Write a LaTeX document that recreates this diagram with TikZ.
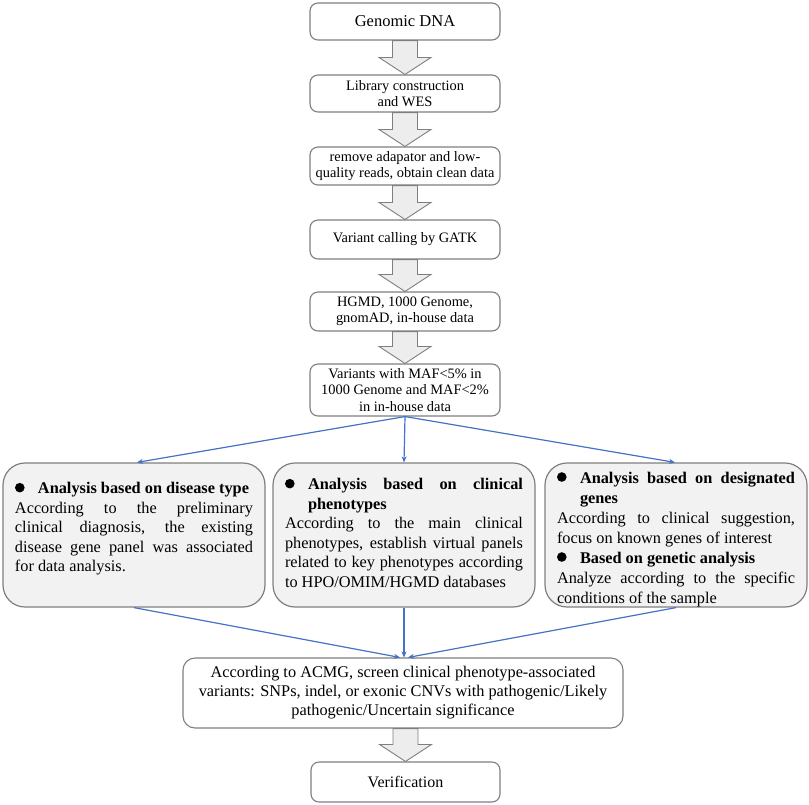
\documentclass[tikz,border=0pt]{standalone}
\usepackage{fontspec}
\setmainfont{Liberation Serif}
\usetikzlibrary{arrows.meta,calc}
\definecolor{boxline}{HTML}{7F7F7F}
\definecolor{arrowfill}{HTML}{EDEDED}
\definecolor{panelfill}{HTML}{F2F2F2}
\definecolor{flowblue}{HTML}{4472C4}
\newcommand{\blockarr}[2]{%
  \path[blockarrow] let \p1=(#1.south), \p2=(#2.north) in
    (\x2-12.5pt,\y1) -- (\x2-12.5pt,\y2+17pt) -- (\x2-26pt,\y2+17pt) -- (\x2,\y2)
    -- (\x2+26pt,\y2+17pt) -- (\x2+12.5pt,\y2+17pt) -- (\x2+12.5pt,\y1) -- cycle;}
\newcommand{\bigdot}{\tikz[baseline=0pt]\fill[black] (5pt,6pt) circle[radius=4.8pt];}
\newcommand{\bhead}[1]{\noindent\hangindent=23pt\hangafter=1\strut\makebox[23pt][l]{\bigdot}\textbf{#1}\par}
\tikzset{
  smallbox/.style={draw=boxline, line width=1.1pt, fill=white, rounded corners=8pt,
    minimum width=190pt, inner sep=0pt, align=center, font=\fontsize{14.4}{15.5}\selectfont},
  panel/.style={draw=boxline, line width=1.2pt, fill=panelfill, rounded corners=22pt,
    minimum width=262pt, minimum height=144pt, inner sep=0pt, font=\fontsize{16.3}{19.5}\selectfont},
  flowline/.style={draw=flowblue, line width=1.2pt, -{Stealth[length=6pt,width=5pt]}},
  blockarrow/.style={draw=boxline, line width=0.9pt, fill=arrowfill, line join=miter},
}
\begin{document}
\begin{tikzpicture}[x=1pt,y=-1pt]
\useasboundingbox (0,0) rectangle (809,804);
\hyphenpenalty=10000
% top chain
\node[smallbox, minimum height=37pt, font=\fontsize{16.5}{18}\selectfont] (B1) at (405,21.5) {Genomic DNA};
\node[smallbox, minimum height=37pt] (B2) at (405,93.5) {Library construction\\and WES};
\node[smallbox, minimum height=38pt] (B3) at (405,166) {remove adapator and low-\\quality reads, obtain clean data};
\node[smallbox, minimum height=39pt] (B4) at (405,239.5) {Variant calling by GATK};
\node[smallbox, minimum height=39pt] (B5) at (405,311.5) {HGMD, 1000 Genome,\\gnomAD, in-house data};
\node[smallbox, minimum height=52pt, font=\fontsize{14.4}{16.5}\selectfont] (B6) at (405,390) {Variants with MAF<5\% in\\1000 Genome and MAF<2\%\\in in-house data};
% panels
\node[panel] (L) at (134,535) {\begin{minipage}[c][144pt][t]{238pt}\vspace*{17pt}%
\bhead{Analysis based on disease type}
\strut According to the preliminary\linebreak clinical diagnosis, the existing\linebreak disease gene panel was associated\linebreak for data analysis.\par
\end{minipage}};
\node[panel] (M) at (404,535) {\begin{minipage}[c][144pt][t]{238pt}\vspace*{13pt}%
\bhead{Analysis based on clinical\linebreak phenotypes}
\strut According to the main clinical\linebreak phenotypes, establish virtual panels\linebreak related to key phenotypes according\linebreak to HPO/OMIM/HGMD databases\par
\end{minipage}};
\node[panel, font=\fontsize{16.3}{20}\selectfont] (R) at (676,535) {\begin{minipage}[c][144pt][t]{238pt}\vspace*{6pt}%
\bhead{Analysis based on designated\linebreak genes}
\strut According to clinical suggestion,\linebreak focus on known genes of interest\par
\bhead{Based on genetic analysis}
\strut Analyze according to the specific\linebreak conditions of the sample\par
\end{minipage}};
% bottom
\node[smallbox, rounded corners=12pt, minimum width=440pt, minimum height=70pt, font=\fontsize{16.3}{19}\selectfont] (B7) at (403,693)
  {According to ACMG, screen clinical phenotype-associated\\variants: SNPs, indel, or exonic CNVs with pathogenic/Likely\\pathogenic/Uncertain significance};
\node[smallbox, minimum width=189pt, minimum height=40pt, font=\fontsize{16}{18}\selectfont] (B8) at (405.5,782) {Verification};
% block arrows
\blockarr{B1}{B2}
\blockarr{B2}{B3}
\blockarr{B3}{B4}
\blockarr{B4}{B5}
\blockarr{B5}{B6}
\blockarr{B7}{B8}
% blue connectors
\draw[flowline] (B6.south) -- ($(L.north)+(3,0)$);
\draw[flowline] (B6.south) -- (M.north);
\draw[flowline] (B6.south) -- ($(R.north)+(-1,0)$);
\draw[flowline] (L.south) -- ($(B7.north)+(-3,0)$);
\draw[flowline] (M.south) -- ($(B7.north)+(1,0)$);
\draw[flowline] (R.south) -- ($(B7.north)+(5,0)$);
\end{tikzpicture}
\end{document}
